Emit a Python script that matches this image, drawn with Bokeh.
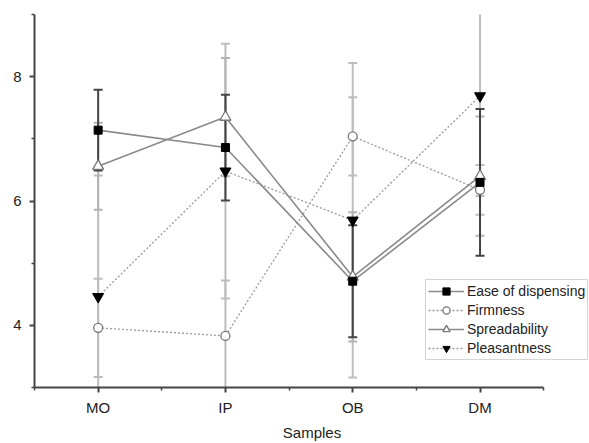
from bokeh.plotting import figure
from bokeh.models import FixedTicker, Legend, LegendItem, Range1d
from bokeh.embed import file_html
from bokeh.resources import INLINE

samples = ["MO", "IP", "OB", "DM"]
xpos = [1, 2, 3, 4]

ease = [7.14, 6.86, 4.71, 6.30]
ease_err = [0.65, 0.85, 0.90, 1.18]
firm = [3.96, 3.83, 7.04, 6.18]
firm_err = [0.79, 0.89, 0.63, 0.40]
spread = [6.56, 7.35, 4.78, 6.40]
spread_err = [0.70, 0.95, 1.04, 0.96]
pleas = [4.46, 6.48, 5.69, 7.69]
pleas_err = [1.95, 2.05, 2.53, 1.61]

y_ticks = [4, 6, 8]
y_minor = [3, 5, 7, 9]
x_minor = [0.5, 1.5, 2.5, 3.5, 4.5]

FONT = "Liberation Sans"

p = figure(width=589, height=443, output_backend="svg", toolbar_location=None,
           x_range=Range1d(0.5, 4.86), y_range=Range1d(3, 9),
           min_border_left=34, min_border_right=0, min_border_top=14, min_border_bottom=53)
p.grid.visible = False
p.outline_line_color = None
p.background_fill_color = "white"
p.border_fill_color = "white"

for ax in (p.xaxis[0], p.yaxis[0]):
    ax.axis_line_color = "#444444"
    ax.axis_line_width = 2
    ax.major_tick_line_color = "#444444"
    ax.major_tick_line_width = 2
    ax.minor_tick_line_color = "#444444"
    ax.minor_tick_line_width = 1.5
    ax.major_tick_out = 5
    ax.major_tick_in = 0
    ax.minor_tick_out = 3
    ax.minor_tick_in = 0
    ax.major_label_text_font = FONT
    ax.major_label_text_font_size = "15px"
    ax.major_label_text_color = "#222222"
    ax.axis_label_text_font = FONT
    ax.axis_label_text_font_size = "15px"
    ax.axis_label_text_font_style = "normal"
    ax.axis_label_text_color = "#222222"

p.xaxis.ticker = FixedTicker(ticks=xpos, minor_ticks=x_minor)
p.xaxis.major_label_overrides = {x: s for x, s in zip(xpos, samples)}
p.xaxis.axis_label = "Samples"
p.xaxis.bounds = (0.5, 4.5)
p.xaxis.major_label_standoff = 6
p.xaxis.axis_label_standoff = 5
p.yaxis.ticker = FixedTicker(ticks=y_ticks, minor_ticks=y_minor)
p.yaxis.major_label_standoff = 8

def draw_err(vals, errs, color, width):
    lo = [v - e for v, e in zip(vals, errs)]
    hi = [v + e for v, e in zip(vals, errs)]
    p.segment(x0=xpos, y0=lo, x1=xpos, y1=hi, line_color=color, line_width=width)
    p.scatter(x=xpos, y=lo, marker="dash", size=9, line_color=color, line_width=width)
    p.scatter(x=xpos, y=hi, marker="dash", size=9, line_color=color, line_width=width)

draw_err(pleas, pleas_err, "#bdbdbd", 2)
draw_err(firm, firm_err, "#bdbdbd", 2)
draw_err(spread, spread_err, "#b3b3b3", 2)
draw_err(ease, ease_err, "#444444", 2)

line_col = "#8a8a8a"
l_pl = p.line(xpos, pleas, line_color="#9a9a9a", line_width=1.3, line_dash="2 2")
l_fi = p.line(xpos, firm, line_color="#9a9a9a", line_width=1.3, line_dash="2 2")
l_sp = p.line(xpos, spread, line_color=line_col, line_width=1.6)
l_ea = p.line(xpos, ease, line_color=line_col, line_width=1.6)

m_fi = p.scatter(xpos, firm, marker="circle", size=9, fill_color="white", line_color="#777777", line_width=1.3)
m_sp = p.scatter(xpos, spread, marker="triangle", size=11, fill_color="white", line_color="#777777", line_width=1.3)
m_ea = p.scatter(xpos, ease, marker="square", size=8, fill_color="black", line_color="black")
m_pl = p.scatter(xpos, pleas, marker="inverted_triangle", size=11, fill_color="black", line_color="black")

legend = Legend(items=[
    LegendItem(label="Ease of dispensing", renderers=[l_ea, m_ea]),
    LegendItem(label="Firmness", renderers=[l_fi, m_fi]),
    LegendItem(label="Spreadability", renderers=[l_sp, m_sp]),
    LegendItem(label="Pleasantness", renderers=[l_pl, m_pl]),
], location=(391, 27))
legend.label_text_font = FONT
legend.label_text_font_size = "14px"
legend.label_text_color = "#222222"
legend.label_height = 18
legend.glyph_height = 18
legend.glyph_width = 36
legend.label_standoff = 3
legend.spacing = 1
legend.padding = 2
legend.margin = 0
legend.border_line_color = "#aaaaaa"
legend.border_line_width = 1.5
legend.background_fill_color = "white"
legend.background_fill_alpha = 1
p.add_layout(legend)

open("out.html", "w").write(file_html(p, INLINE))
